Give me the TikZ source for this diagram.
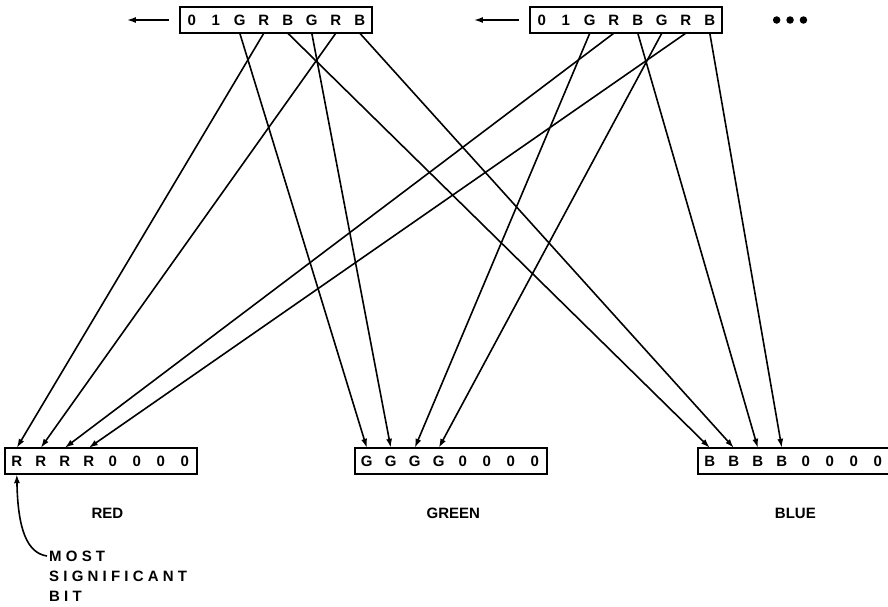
\documentclass[tikz,border=0pt]{standalone}
\usepackage{fontspec}
\setmainfont{Liberation Sans}
\usepackage{tikz}
\usetikzlibrary{arrows.meta, positioning, fit}

\begin{document}
\begin{tikzpicture}[x=1pt, y=-1pt,
  bit/.style={minimum width=23.6pt, minimum height=26pt, inner sep=0pt,
    font=\bfseries\fontsize{15}{15}\selectfont},
  reg/.style={draw, line width=1.8pt, inner sep=0pt},
  wire/.style={line width=1.6pt, -{Latex[length=9pt,width=6pt]}},
  regname/.style={inner sep=0pt, font=\bfseries\fontsize{15}{15}\selectfont},
  dot/.style={circle, fill, inner sep=0pt, minimum size=7.5pt},
]
  \useasboundingbox (0,0) rectangle (888,606);

  % the registers, one cell per bit
  \foreach \reg/\x/\y/\bits in {top1/191.8/20/{0,1,G,R,B,G,R,B},
      top2/541.8/20/{0,1,G,R,B,G,R,B},
      red/16.8/461/{R,R,R,R,0,0,0,0},
      green/366.8/461/{G,G,G,G,0,0,0,0},
      blue/709.8/461/{B,B,B,B,0,0,0,0}}{
    \foreach \lbl [count=\i] in \bits {
      \ifnum\i=1
        \node[bit] (\reg-\i) at (\x,\y) {\lbl};
      \else
        \pgfmathtruncatemacro\j{\i-1}
        \node[bit, right=0pt of \reg-\j] (\reg-\i) {\lbl};
      \fi
    }
    \node[reg, fit=(\reg-1)(\reg-8)] (\reg) {};
  }

  % shift direction and more bytes
  \coordinate[left=10pt of top1] (top1-s);
  \coordinate[left=52pt of top1] (top1-e);
  \coordinate[left=10pt of top2] (top2-s);
  \coordinate[left=55pt of top2] (top2-e);
  \draw[wire] (top1-s) -- (top1-e);
  \draw[wire] (top2-s) -- (top2-e);
  \node[dot, right=50pt of top2] (dot1) {};
  \node[dot, right=5.5pt of dot1] (dot2) {};
  \node[dot, right=5.5pt of dot2] (dot3) {};

  % bits to colour registers
  \foreach \s/\e in {top1-3/green-1, top1-4/red-1, top1-5/blue-1,
      top1-6/green-2, top1-7/red-2, top1-8/blue-2,
      top2-3/green-3, top2-4/red-3, top2-5/blue-3,
      top2-6/green-4, top2-7/red-4, top2-8/blue-4}
    \draw[wire] (\s.south) -- (\e.north);

  % names
  \node[regname, below=33pt of red, xshift=6.6pt] (redname) {RED};
  \node[regname, below=33pt of green, xshift=2.6pt] (greenname) {GREEN};
  \node[regname, below=33pt of blue, xshift=1.6pt] (bluename) {BLUE};

  \node[inner sep=0pt, anchor=north west, align=left,
    font=\bfseries\fontsize{15}{20}\selectfont\addfontfeature{LetterSpace=28}] (msb) at (49,551)
    {MOST\\SIGNIFICANT\\BIT};
  \draw[wire] ([xshift=-2pt, yshift=-5pt]msb.north west)
    .. controls +(-20,-3) and +(1,55) .. (red-1.south);
\end{tikzpicture}
\end{document}
